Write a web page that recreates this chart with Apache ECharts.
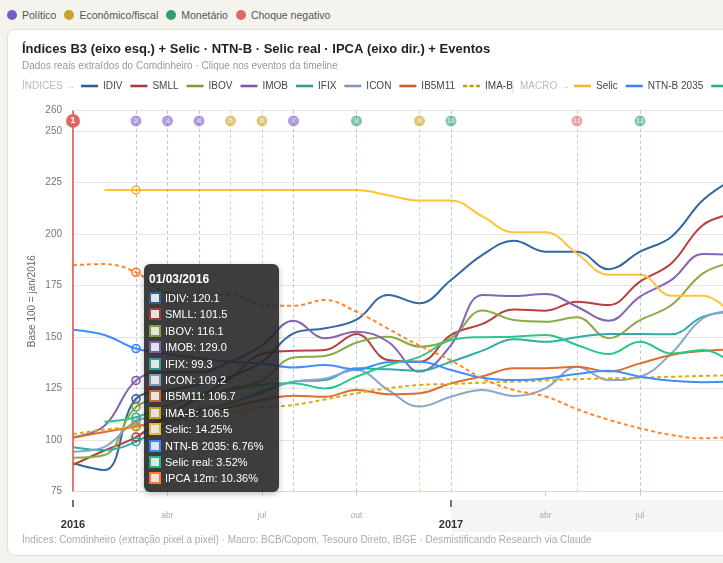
<!DOCTYPE html>
<html>
<head>
<meta charset="utf-8">
<script src="https://cdn.jsdelivr.net/npm/echarts@6/dist/echarts.min.js"></script>
<style>
html,body{margin:0;padding:0;width:723px;height:563px;overflow:hidden;background:#f4f3ee;font-family:"Liberation Sans",Arial,Helvetica,sans-serif;}
#cats{position:absolute;left:7px;top:9px;height:12px;display:flex;align-items:center;font-size:10.5px;color:#555;white-space:nowrap}
#cats .item{display:flex;align-items:center;margin-right:8px}
#cats .dot{display:inline-block;width:10px;height:10px;border-radius:50%;margin-right:5px}
#card{position:absolute;left:7px;top:29px;width:1100px;height:525px;background:#fff;border:1px solid #e2dfd7;border-radius:8px}
#chart{position:absolute;left:0;top:0;width:1000px;height:563px}
</style>
</head>
<body>
<div id="cats"></div>
<div id="card"></div>
<div id="chart"></div>
<script>
// ---------- DATA ----------
const months = ['2016-01','2016-02','2016-03','2016-04','2016-05','2016-06','2016-07','2016-08','2016-09','2016-10','2016-11','2016-12',
                '2017-01','2017-02','2017-03','2017-04','2017-05','2017-06','2017-07','2017-08','2017-09','2017-10','2017-11','2017-12'];
const monthAbbr = ['jan','fev','mar','abr','mai','jun','jul','ago','set','out','nov','dez'];

const IDIV   = [88.8, 85.5, 120.1, 124, 127, 131, 138, 151.9, 154.3, 158.5, 170.5, 166.5, 177.8, 190, 196.8, 191.5, 191.5, 183, 191.5, 198.8, 216.6, 227, null, null];
const SMLL   = [88, 95, 101.5, 112, 121, 130, 142, 143.4, 143.8, 151.6, 138.9, 138.1, 151.1, 156.5, 163.5, 162.9, 167.2, 165.6, 177, 185.9, 204.5, 210, null, null];
const IBOV   = [91.5, 92.8, 116.1, 120, 122, 125, 129, 140.2, 140.9, 147.3, 150.2, 145.4, 149.5, 163, 158.3, 157.5, 159.7, 149.5, 158.3, 165.6, 181, 186.5, null, null];
const IMOB   = [101.4, 107, 129.0, 133, 133, 138, 146, 158, 149.5, 152.7, 147.8, 133.3, 146.2, 170.5, 170, 171, 164.8, 158, 169.7, 177.8, 190.4, 190, null, null];
const IFIX   = [96.6, 95.2, 99.3, 108, 114, 118, 123, 128.4, 129.2, 134.9, 134.4, 133.7, 138.1, 143.5, 149, 147.8, 150, 151.6, 151.5, 151.4, 160, 162.5, null, null];
const ICON   = [94.4, 96.8, 109.2, 112, 115, 118, 124, 128.4, 130, 134.1, 124.4, 116.3, 121.1, 124.4, 121.5, 125.2, 135.7, 129.2, 130.8, 142.2, 159.2, 163, null, null];
const IB5M11 = [101.2, 104, 106.7, 110, 113, 116, 119.5, 121.6, 121.1, 124.4, 122.3, 122.8, 127.6, 131, 134.9, 134.9, 135.7, 133.3, 137.3, 141.4, 143.3, 144, null, null];
const IMAB   = [102.9, 105.2, 106.5, 109, 111, 113, 115.8, 117.1, 119.8, 122.8, 125.2, 126.8, 127.3, 127.9, 128.4, 129, 129.6, 130, 130.3, 130.8, 131.2, 131.6, null, null];

const SELIC     = [null, 14.25, 14.25, 14.25, 14.25, 14.25, 14.25, 14.25, 14.25, 14.25, 14.0, 13.75, 13.75, 13.0, 12.25, 12.25, 11.25, 10.25, 10.25, 9.25, 9.25, 8.25, null, null];
const NTNB2035  = [7.65, 7.4, 6.76, 6.5, 6.3, 6.14, 6.06, 5.87, 5.98, 5.78, 6.12, 6.14, 5.75, 5.38, 5.27, 5.35, 5.56, 5.71, 5.43, 5.24, 5.17, 5.2, null, null];
const SELICREAL = [null, 3.3, 3.52, 4.1, 4.5, 4.8, 5.05, 5.12, 4.88, 5.43, 5.98, 6.37, 7.16, 7.3, 7.32, 7.4, 6.93, 6.5, 7.08, 6.53, 6.69, 6.0, null, null];
const IPCA12M   = [10.7, 10.75, 10.36, 9.39, 9.28, 9.32, 8.84, 8.78, 9.05, 8.5, 7.7, 6.9, 6.2, 5.35, 4.8, 4.5, 3.9, 3.4, 3.0, 2.68, 2.52, 2.6, null, null];

const eventNumbers = [1, 2, 3, 4, 5, 6, 7, 8, 9, 10, 11, 12];
const eventMonths  = ['2016-01','2016-03','2016-04','2016-05','2016-06','2016-07','2016-08','2016-10','2016-12','2017-01','2017-05','2017-07'];
const eventKinds   = ['neg','pol','pol','pol','eco','eco','pol','mon','eco','mon','neg','mon'];
const selectedEvent = 1;
const eventRowValue = 255;

const kindKeys   = ['pol','eco','mon','neg'];
const kindNames  = ['Político','Econômico/fiscal','Monetário','Choque negativo'];
const kindColors = ['#7c5cc4','#c9a227','#2e9e6b','#e06666'];

const tooltipIndex = 2;
// ---------- END DATA ----------

const FONT = '"Liberation Sans", Arial, Helvetica, sans-serif';

const cats = document.getElementById('cats');
kindNames.forEach((n, i) => {
  const it = document.createElement('span'); it.className = 'item';
  const d = document.createElement('span'); d.className = 'dot'; d.style.background = kindColors[i];
  it.appendChild(d); it.appendChild(document.createTextNode(n)); cats.appendChild(it);
});
function kindColor(k){ return kindColors[kindKeys.indexOf(k)]; }

const indexSeries = [
  {name:'IDIV', data:IDIV, color:'#2f5d95'},
  {name:'SMLL', data:SMLL, color:'#a83a3a'},
  {name:'IBOV', data:IBOV, color:'#7d9c3c'},
  {name:'IMOB', data:IMOB, color:'#7a5aa5'},
  {name:'IFIX', data:IFIX, color:'#2a9d97'},
  {name:'ICON', data:ICON, color:'#8096b8'},
  {name:'IB5M11', data:IB5M11, color:'#c8642c'},
  {name:'IMA-B', data:IMAB, color:'#c89b14', dashed:true}
];
const macroSeries = [
  {name:'Selic', data:SELIC, color:'#f2b232'},
  {name:'NTN-B 2035', data:NTNB2035, color:'#3b82f6'},
  {name:'Selic real', data:SELICREAL, color:'#27b57d'},
  {name:'IPCA 12m', data:IPCA12M, color:'#f97a2a', dashed:true}
];
const allDefs = indexSeries.concat(macroSeries);

function rgba(hex, a){ const n = parseInt(hex.slice(1),16); return 'rgba('+(n>>16)+','+((n>>8)&255)+','+(n&255)+','+a+')'; }

function lineSeries(def, yIdx){
  return {
    name: def.name, type:'line', xAxisIndex:0, yAxisIndex:yIdx, data: def.data,
    smooth: 0.4, showSymbol:false, symbol:'circle', symbolSize:8, connectNulls:false,
    lineStyle:{color:def.color, width:2, type: def.dashed ? [4,3] : 'solid'},
    itemStyle:{color: rgba(def.color, 0.12), borderColor: def.color, borderWidth:1.5},
    emphasis:{scale:false, lineStyle:{width:2}},
    z: 3
  };
}

const SOLID = 'path://M0,0H20V3H0Z';
const DASH = 'path://M0,0H5V3H0Z M7.5,0H12.5V3H7.5Z M15,0H20V3H15Z';

const legendBase = {padding:0, itemGap:8, itemWidth:17, itemHeight:3, top:81, selectedMode:false,
  itemStyle:{borderWidth:0}, textStyle:{fontSize:10, color:'#444', fontFamily:FONT}};

function fmtDate(m){ const p = m.split('-'); return '01/' + p[1] + '/' + p[0]; }

const chart = echarts.init(document.getElementById('chart'), null, {renderer:'canvas'});

const eventData = eventNumbers.map((n, i) => {
  const sel = n === selectedEvent;
  return {
    value:[eventMonths[i], eventRowValue],
    symbolSize: sel ? 14 : 11,
    itemStyle:{color: kindColor(eventKinds[i]), opacity: sel ? 1 : 0.6},
    label:{show:true, position:'inside', formatter:String(n), color:'#fff', fontSize: sel ? 9 : 7.5, fontWeight:'bold', fontFamily:FONT}
  };
});
const eventLines = eventNumbers.map((n, i) => {
  const sel = n === selectedEvent;
  return {xAxis: eventMonths[i], lineStyle:{color: kindColor(eventKinds[i]), type: sel ? 'solid' : [3,3], width: sel ? 2 : 1, opacity: sel ? 0.9 : 0.45}};
});

const option = {
  animation:false,
  textStyle:{fontFamily:FONT},
  title:[
    {text:'Índices B3 (eixo esq.) + Selic · NTN-B · Selic real · IPCA (eixo dir.) + Eventos', left:22, top:43, padding:0,
     textStyle:{fontSize:13, fontWeight:'bold', color:'#222', fontFamily:FONT}},
    {text:'Dados reais extraídos do Comdinheiro · Clique nos eventos da timeline', left:22, top:61, padding:0,
     textStyle:{fontSize:10, fontWeight:'normal', color:'#999', fontFamily:FONT}},
    {text:'Índices: Comdinheiro (extração pixel a pixel) · Macro: BCB/Copom, Tesouro Direto, IBGE · Desmistificando Research via Claude', left:22, top:535, padding:0,
     textStyle:{fontSize:10, fontWeight:'normal', color:'#aaa', fontFamily:FONT}}
  ],
  graphic:[
    {type:'text', left:22, top:81, style:{text:'ÍNDICES →', fill:'#bbb', fontSize:10, fontFamily:FONT}},
    {type:'line', shape:{x1:513, y1:80, x2:513, y2:94}, style:{stroke:'#ddd', lineWidth:1}},
    {type:'text', left:520, top:81, style:{text:'MACRO →', fill:'#bbb', fontSize:10, fontFamily:FONT}}
  ],
  legend:[
    Object.assign({}, legendBase, {left:81, data: indexSeries.map(d => ({name:d.name, icon: d.dashed ? DASH : SOLID, itemStyle:{color:d.color}}))}),
    Object.assign({}, legendBase, {left:574, data: macroSeries.map(d => ({name:d.name, icon: d.dashed ? DASH : SOLID, itemStyle:{color:d.color}}))})
  ],
  grid:[
    {left:73, top:110.6, width:724.5, height:381.1},
    {left:73, top:500, width:724.5, height:32}
  ],
  tooltip:{
    trigger:'axis', alwaysShowContent:true, transitionDuration:0,
    axisPointer:{type:'none'},
    backgroundColor:'rgba(34,34,34,0.88)', borderWidth:0, padding:[7,5,5,5],
    textStyle:{color:'#fff', fontSize:11, fontFamily:FONT},
    extraCssText:'border-radius:6px;width:125px;box-shadow:0 2px 6px rgba(0,0,0,0.25);',
    position:function(point, params, dom, rect, size){
      const yb = chart.convertToPixel({yAxisIndex:0}, 75);
      return [point[0] + 8, yb - size.contentSize[1]];
    },
    formatter:function(params){
      const byName = {}; params.forEach(p => { byName[p.seriesName] = p; });
      let h = '<div style="font-weight:bold;font-size:12px;line-height:16px;margin-bottom:3px">' + fmtDate(params[0].axisValue) + '</div>';
      allDefs.forEach(d => {
        const p = byName[d.name]; if (!p) return;
        const v = Array.isArray(p.value) ? p.value[1] : p.value;
        if (v == null) return;
        const isMacro = macroSeries.indexOf(d) >= 0;
        const txt = isMacro ? v.toFixed(2) + '%' : v.toFixed(1);
        h += '<div style="line-height:16.4px;white-space:nowrap"><span style="display:inline-block;box-sizing:border-box;width:12px;height:12px;border:2px solid ' + d.color +
             ';background:#e4e4e4;vertical-align:-2px;margin-right:4px"></span>' + d.name + ': ' + txt + '</div>';
      });
      return h;
    }
  },
  xAxis:[
    {type:'category', gridIndex:0, data:months, boundaryGap:false, position:'bottom', offset:8.3, z:10,
     axisLine:{lineStyle:{color:'#d8d8d8'}},
     axisTick:{interval:(i) => i % 3 === 0 && i % 12 !== 0, length:4, lineStyle:{color:'#ccc'}},
     axisLabel:{interval:(i) => i % 3 === 0, margin:11,
       formatter:function(v){ const p = v.split('-'); const m = parseInt(p[1],10);
         return m === 1 ? '{y|' + p[0] + '}' : '{m|' + monthAbbr[m-1] + '}'; },
       rich:{ m:{fontSize:8.5, color:'#aaa', lineHeight:10, fontFamily:FONT},
              y:{fontSize:11, fontWeight:'bold', color:'#333', padding:[16,0,0,0], lineHeight:12, fontFamily:FONT} }},
     splitLine:{show:false}},
    {type:'category', gridIndex:0, data:months, boundaryGap:false, position:'bottom', offset:8.3, z:11,
     axisLine:{show:false}, axisLabel:{show:false}, splitLine:{show:false},
     axisTick:{interval:(i) => i % 12 === 0, length:7, lineStyle:{color:'#444', width:1.5}}},
    {type:'category', gridIndex:1, data:months, boundaryGap:false, show:false}
  ],
  yAxis:[
    {type:'value', gridIndex:0, min:75, max:260, interval:25, position:'left',
     name:'Base 100 = jan/2016', nameLocation:'middle', nameGap:36, nameRotate:90, nameMoveOverlap:false,
     nameTextStyle:{color:'#666', fontSize:10, fontFamily:FONT},
     axisLine:{show:false}, axisTick:{show:false},
     axisLabel:{color:'#777', fontSize:10, margin:11},
     splitLine:{lineStyle:{color:'#e6e6e6'}}},
    {type:'value', gridIndex:0, min:0, max:18, interval:2, position:'right',
     axisLine:{show:false}, axisTick:{show:false}, splitLine:{show:false},
     axisLabel:{color:'#777', fontSize:10, formatter:'{value}%'}},
    {type:'value', gridIndex:1, min:0, max:1, show:false}
  ],
  series: indexSeries.map(d => lineSeries(d, 0))
    .concat(macroSeries.map(d => lineSeries(d, 1)))
    .concat([
      {name:'Eventos', type:'scatter', xAxisIndex:0, yAxisIndex:0, data:eventData, z:6, silent:true,
       tooltip:{show:false}, emphasis:{disabled:true},
       markLine:{silent:true, symbol:['none','none'], label:{show:false}, animation:false, data:eventLines}},
      {name:'faixa', type:'line', xAxisIndex:2, yAxisIndex:2, data:months.map(() => null), silent:true, z:0,
       tooltip:{show:false},
       markArea:{silent:true, itemStyle:{color:'#f5f5f5'}, data:[[{xAxis:'2017-01'},{xAxis:'2017-12'}]]}}
    ])
};

chart.setOption(option);
function showTip(){ chart.dispatchAction({type:'showTip', seriesIndex:0, dataIndex:tooltipIndex}); }
showTip();
setTimeout(showTip, 60);
</script>
</body>
</html>
